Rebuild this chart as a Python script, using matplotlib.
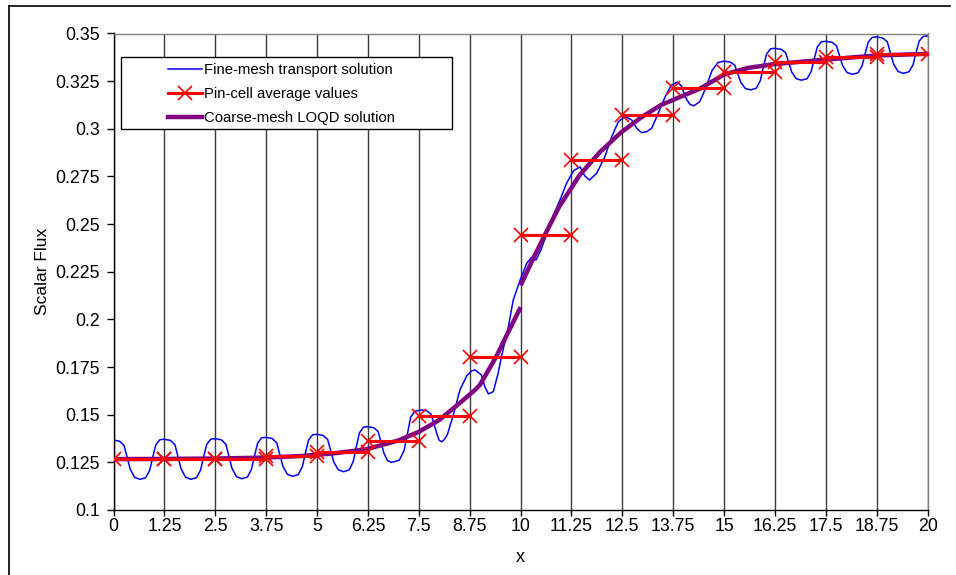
import matplotlib
matplotlib.use("Agg")
import matplotlib.pyplot as plt
from matplotlib.patches import Rectangle
from matplotlib.lines import Line2D
from matplotlib.ticker import FuncFormatter

plt.rcParams['font.family'] = ['Liberation Sans', 'DejaVu Sans']

# pin-cell boundaries and cell-averaged flux
pin_edges = [0, 1.25, 2.5, 3.75, 5, 6.25, 7.5, 8.75, 10,
             11.25, 12.5, 13.75, 15, 16.25, 17.5, 18.75, 20]
pin_avg = [0.1268, 0.1268, 0.1270, 0.1285, 0.1305, 0.1360, 0.1493, 0.1801,
           0.2443, 0.2836, 0.3075, 0.3212, 0.3300, 0.3350, 0.3378, 0.3393]

# fine-mesh transport solution
fine_x = [0, 0.15, 0.26, 0.33, 0.41, 0.52, 0.65, 0.79, 0.89, 0.96, 1.04, 1.14,
          1.25, 1.40, 1.51, 1.58, 1.66, 1.77, 1.90, 2.04, 2.14, 2.21, 2.29, 2.39,
          2.5, 2.65, 2.76, 2.83, 2.91, 3.02, 3.15, 3.29, 3.39, 3.46, 3.54, 3.64,
          3.75, 3.90, 4.01, 4.08, 4.16, 4.27, 4.40, 4.54, 4.64, 4.71, 4.79, 4.89,
          5.0, 5.15, 5.26, 5.33, 5.41, 5.52, 5.65, 5.79, 5.89, 5.96, 6.04, 6.14,
          6.25, 6.40, 6.50, 6.57, 6.64, 6.73, 6.83, 7.02, 7.14, 7.22, 7.30, 7.40,
          7.57, 7.70, 7.80, 7.87, 7.94, 8.00, 8.06, 8.12, 8.20, 8.35, 8.51, 8.68, 8.80,
          8.88, 9.04, 9.12, 9.21, 9.33, 9.45, 9.53, 9.70, 9.82, 9.99, 10.15, 10.27,
          10.38, 10.50, 10.62, 10.80, 10.97, 11.13, 11.30, 11.46, 11.58, 11.69,
          11.87, 12.07, 12.24, 12.40, 12.56, 12.73, 12.85, 12.97, 13.10, 13.22,
          13.38, 13.55, 13.70, 13.85, 13.95, 14.05, 14.15, 14.25, 14.40, 14.55,
          14.70, 14.85,
          15.0, 15.15, 15.26, 15.33, 15.41, 15.52, 15.65, 15.79, 15.89, 15.96, 16.04, 16.14,
          16.25, 16.40, 16.51, 16.58, 16.66, 16.77, 16.90, 17.04, 17.14, 17.21, 17.29, 17.39,
          17.5, 17.65, 17.76, 17.83, 17.91, 18.02, 18.15, 18.29, 18.39, 18.46, 18.54, 18.64,
          18.75, 18.90, 19.01, 19.08, 19.16, 19.27, 19.40, 19.54, 19.64, 19.71, 19.79, 19.89,
          20.0]
fine_y = [0.1367, 0.1361, 0.1338, 0.1280, 0.1215, 0.1171, 0.1161, 0.1169, 0.1209, 0.1274, 0.1342, 0.1369,
          0.1371, 0.1365, 0.1342, 0.1283, 0.1216, 0.1172, 0.1161, 0.1170, 0.1210, 0.1276, 0.1344, 0.1372,
          0.1374, 0.1368, 0.1345, 0.1286, 0.1219, 0.1175, 0.1164, 0.1173, 0.1214, 0.1281, 0.1351, 0.1379,
          0.1381, 0.1375, 0.1352, 0.1295, 0.1230, 0.1187, 0.1177, 0.1186, 0.1228, 0.1296, 0.1366, 0.1395,
          0.1397, 0.1391, 0.1370, 0.1315, 0.1252, 0.1211, 0.1201, 0.1210, 0.1255, 0.1328, 0.1404, 0.1435,
          0.1437, 0.1431, 0.1411, 0.1358, 0.1299, 0.1259, 0.1250, 0.1261, 0.1313, 0.1399, 0.1487, 0.1518,
          0.1525, 0.1520, 0.1502, 0.1455, 0.1401, 0.1366, 0.1358, 0.1368, 0.1395, 0.1500, 0.1630, 0.1705, 0.1730,
          0.1735, 0.1708, 0.1647, 0.1609, 0.1621, 0.1719, 0.1804, 0.1962, 0.2102, 0.2207, 0.2294, 0.2325,
          0.2312, 0.2365, 0.2435, 0.2545, 0.2628, 0.2715, 0.2780, 0.2800, 0.2752, 0.2731,
          0.2767, 0.2854, 0.2959, 0.3037, 0.3064, 0.3046, 0.3003, 0.2980, 0.2985, 0.3003,
          0.3081, 0.3168, 0.3228, 0.3245, 0.3225, 0.3165, 0.3130, 0.3120, 0.3142, 0.3215,
          0.3305, 0.3348,
          0.3355, 0.3350, 0.3334, 0.3292, 0.3243, 0.3212, 0.3204, 0.3213, 0.3254, 0.3322, 0.3391, 0.3420,
          0.3422, 0.3417, 0.3399, 0.3352, 0.3298, 0.3263, 0.3255, 0.3263, 0.3302, 0.3365, 0.3430, 0.3457,
          0.3459, 0.3454, 0.3435, 0.3386, 0.3331, 0.3295, 0.3286, 0.3294, 0.3331, 0.3392, 0.3455, 0.3480,
          0.3482, 0.3476, 0.3455, 0.3402, 0.3341, 0.3301, 0.3291, 0.3299, 0.3336, 0.3397, 0.3460, 0.3485,
          0.3487]

# coarse-mesh LOQD solution, discontinuous at x = 10
loqd_left_x = [0, 1.25, 2.5, 3.75, 4.6, 5.4, 6.2, 7.0, 7.5, 8.0, 8.5, 8.88, 9.0, 9.4, 9.7, 10.0]
loqd_left_y = [0.1267, 0.1268, 0.1270, 0.1275, 0.1283, 0.1297, 0.1318, 0.1365, 0.1410,
               0.1472, 0.1560, 0.1630, 0.1656, 0.1804, 0.1935, 0.2064]
loqd_right_x = [10.0, 10.3, 10.6, 10.95, 11.45, 11.95, 12.45, 12.95, 13.45, 13.95,
                14.4, 15.0, 15.6, 16.25, 17.5, 18.75, 20]
loqd_right_y = [0.2178, 0.2315, 0.2445, 0.2592, 0.2757, 0.2878, 0.2978, 0.3058, 0.3125,
                0.3170, 0.3210, 0.3285, 0.3320, 0.3340, 0.3363, 0.3385, 0.3393]

x_ticks = pin_edges
y_ticks = [0.1, 0.125, 0.15, 0.175, 0.2, 0.225, 0.25, 0.275, 0.3, 0.325, 0.35]

labels = ['Fine-mesh transport solution', 'Pin-cell average values',
          'Coarse-mesh LOQD solution']

W, H = 956, 575
fig = plt.figure(figsize=(W / 100, H / 100), dpi=100)
ax = fig.add_axes([113.5 / W, 1 - 510 / H, (927.7 - 113.5) / W, (510 - 33.5) / H])

# pin-cell averages: one horizontal segment per cell with markers at both ends
seg_x, seg_y = [], []
for i, v in enumerate(pin_avg):
    seg_x += [pin_edges[i], pin_edges[i + 1], float('nan')]
    seg_y += [v, v, float('nan')]

ax.plot(fine_x, fine_y, color='#0000FF', lw=1.1, zorder=2)
ax.plot(loqd_left_x, loqd_left_y, color='#800080', lw=3.2, solid_capstyle='butt', zorder=3)
ax.plot(loqd_right_x, loqd_right_y, color='#800080', lw=3.2, solid_capstyle='butt', zorder=3)
ax.plot(seg_x, seg_y, color='#FF0000', lw=2.2, marker='x', ms=10.5, mew=1.2, zorder=3.5)

ax.set_xlim(0, 20)
ax.set_ylim(0.1, 0.35)
ax.set_xticks(x_ticks)
ax.set_yticks(y_ticks)
ax.xaxis.set_major_formatter(FuncFormatter(lambda v, p: f'{v:g}'))
ax.yaxis.set_major_formatter(FuncFormatter(lambda v, p: f'{v:g}'))
ax.tick_params(axis='x', direction='out', length=4, width=1, pad=2, labelsize=12.8)
ax.tick_params(axis='y', direction='out', length=5, width=1, pad=5, labelsize=12.8)

ax.grid(axis='x', color='#3a3a3a', lw=1.0)
ax.set_axisbelow(True)
for side in ['left', 'bottom']:
    ax.spines[side].set_color('black')
    ax.spines[side].set_linewidth(1.0)
for side in ['top', 'right']:
    ax.spines[side].set_color('#808080')
    ax.spines[side].set_linewidth(1.0)

ax.set_xlabel('x', fontsize=13)
ax.set_ylabel('Scalar Flux', fontsize=12.5)
ax.xaxis.set_label_coords(0.5, -0.082)
ax.yaxis.set_label_coords(-0.078, 0.5)

# legend with its own white box
ax.add_patch(Rectangle((120.7 / W, 1 - 129.3 / H), (451.7 - 120.7) / W, (129.3 - 57.3) / H,
                       transform=fig.transFigure, facecolor='white', edgecolor='black',
                       lw=1.0, zorder=4))
handles = [Line2D([], [], color='#0000FF', lw=1.1),
           Line2D([], [], color='#FF0000', lw=2.2, marker='x', ms=10.5, mew=1.2),
           Line2D([], [], color='#800080', lw=3.2)]
leg = ax.legend(handles, labels, loc='center left',
                bbox_to_anchor=(168 / W, 1 - 94 / H), bbox_transform=fig.transFigure,
                frameon=False, borderpad=0, borderaxespad=0, handlelength=2.3,
                handletextpad=0.15, labelspacing=0.68, fontsize=10.7)
leg.set_zorder(5)

# outer border of the chart area
fig.add_artist(Line2D([8.5 / W, 8.5 / W], [0, 1 - 6 / H], transform=fig.transFigure,
                      color='black', lw=1.2))
fig.add_artist(Line2D([8.5 / W, 950 / W], [1 - 6 / H, 1 - 6 / H], transform=fig.transFigure,
                      color='black', lw=1.2))

fig.savefig('out.png', dpi=100)
